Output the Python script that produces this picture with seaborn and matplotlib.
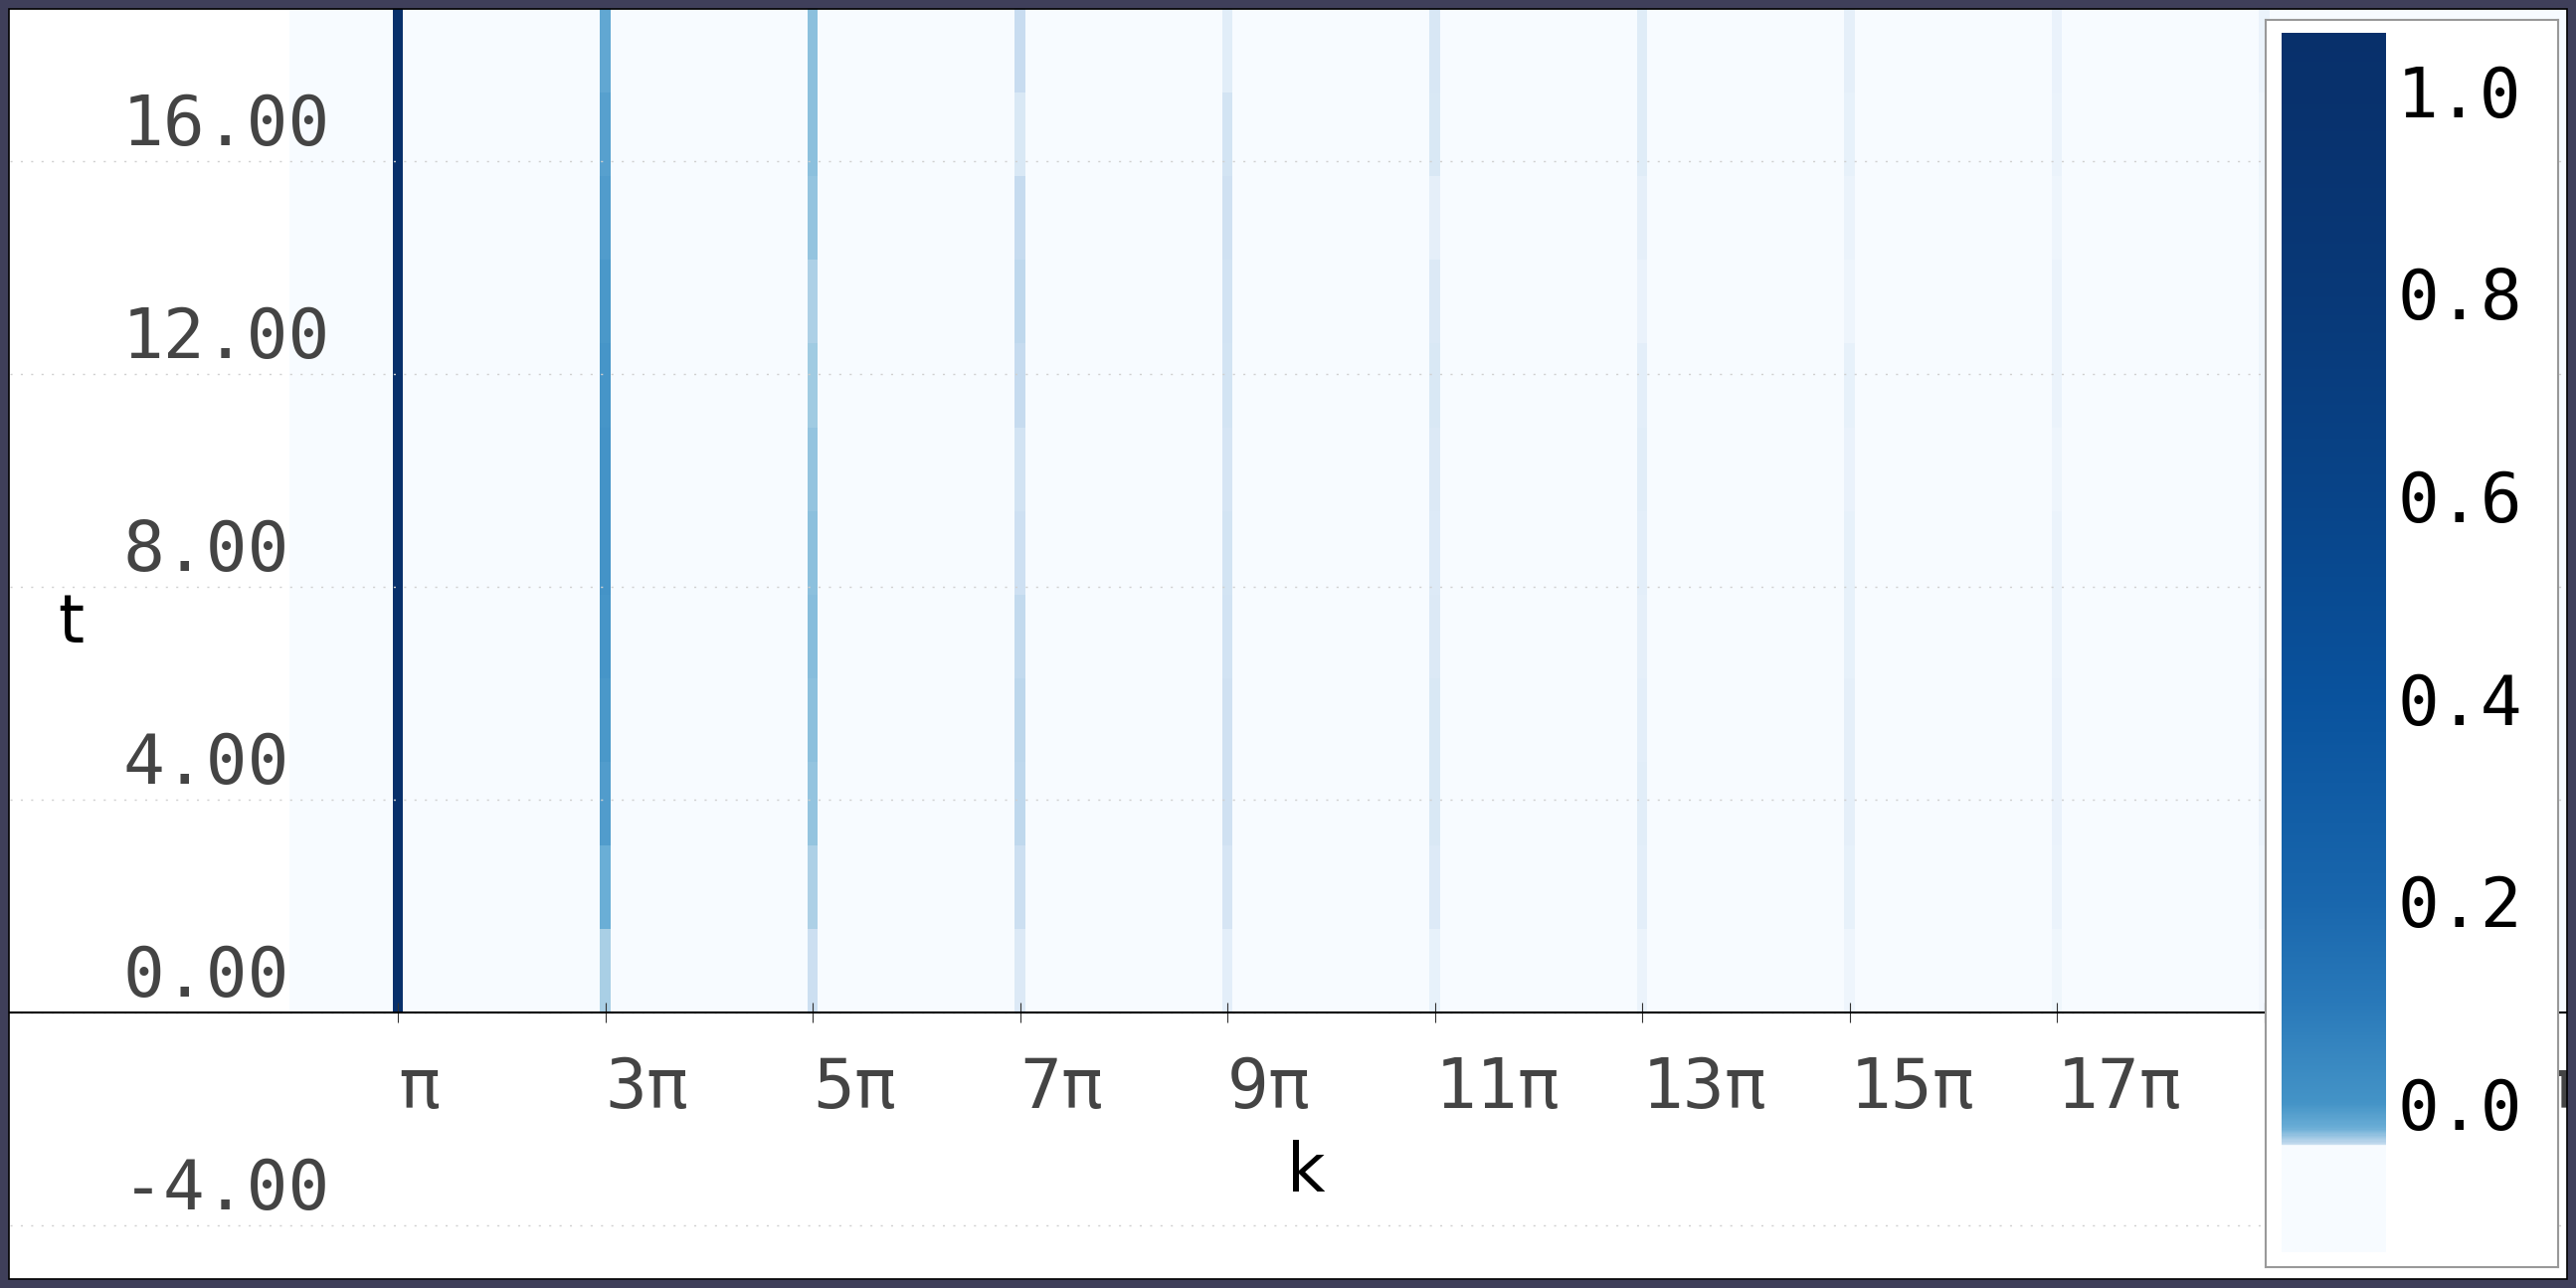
"""
Espectro em k ao longo de t
===========================
Heatmap (seaborn) das linhas nos harmônicos ímpares de π,
com barra de cores dentro de uma caixa no canto direito.
"""

import matplotlib.pyplot as plt
import matplotlib.transforms as mtransforms
import numpy as np
import seaborn as sns
from matplotlib.cm import ScalarMappable
from matplotlib.colors import LinearSegmentedColormap, Normalize
from matplotlib.patches import Rectangle

# ──────────────────────────────────────────────────────────────────
#  Dados
# ──────────────────────────────────────────────────────────────────
# harmônicos (múltiplos de π) onde aparecem as linhas
HARMONICOS = [1, 3, 5, 7, 9, 11, 13, 15, 17, 19]

# intensidade de cada linha por faixa de t (t=0 -> t=6π, passo π/2)
LINHA_1 = [1.00, 1.00, 1.00, 1.00, 1.00, 1.00, 1.00, 1.00, 1.00, 1.00, 1.00, 1.00]
LINHA_3 = [0.34, 0.50, 0.58, 0.60, 0.61, 0.62, 0.62, 0.61, 0.60, 0.58, 0.56, 0.53]
LINHA_5 = [0.22, 0.33, 0.40, 0.42, 0.43, 0.42, 0.40, 0.37, 0.33, 0.40, 0.42, 0.42]
LINHA_7 = [0.14, 0.22, 0.27, 0.28, 0.26, 0.21, 0.19, 0.25, 0.27, 0.25, 0.15, 0.24]
LINHA_9 = [0.10, 0.17, 0.20, 0.20, 0.19, 0.18, 0.17, 0.18, 0.19, 0.20, 0.18, 0.11]
LINHA_11 = [0.08, 0.13, 0.15, 0.15, 0.14, 0.13, 0.14, 0.15, 0.14, 0.09, 0.15, 0.16]
LINHA_13 = [0.06, 0.10, 0.11, 0.10, 0.09, 0.10, 0.11, 0.10, 0.07, 0.09, 0.12, 0.12]
LINHA_15 = [0.05, 0.08, 0.09, 0.09, 0.08, 0.08, 0.07, 0.08, 0.05, 0.06, 0.08, 0.09]
LINHA_17 = [0.04, 0.06, 0.07, 0.07, 0.06, 0.06, 0.05, 0.06, 0.06, 0.05, 0.06, 0.07]
LINHA_19 = [0.03, 0.05, 0.06, 0.06, 0.05, 0.05, 0.05, 0.05, 0.05, 0.04, 0.05, 0.06]
INTENSIDADES = [LINHA_1, LINHA_3, LINHA_5, LINHA_7, LINHA_9,
                LINHA_11, LINHA_13, LINHA_15, LINHA_17, LINHA_19]

# eixos
TICKS_K = [1, 3, 5, 7, 9, 11, 13, 15, 17, 19, 21]
ROTULOS_K = ["π", "3π", "5π", "7π", "9π", "11π", "13π", "15π", "17π", "19π", "21π"]
TICKS_T = [-4, 0, 4, 8, 12, 16]
TICKS_CBAR = [0.0, 0.2, 0.4, 0.6, 0.8, 1.0]

# escala da barra de cores: (valor, posição no mapa Blues)
ANCORAS_CBAR = [(-0.147, 0.0), (-0.0425, 0.0), (-0.041, 0.25), (-0.025, 0.5),
                (0.0, 0.62), (0.1, 0.72), (0.2, 0.79), (0.4, 0.87),
                (0.6, 0.925), (0.8, 0.965), (1.0, 0.995), (1.057, 1.0)]

# grade do heatmap
PASSO_K = 0.1           # largura da coluna, em múltiplos de π
N_COLUNAS = 220         # k de 0 a ~22π
PASSO_T = np.pi / 2     # altura da faixa de t
N_FAIXAS = 12           # t de 0 a 6π


def k_para_x(n):
    """Múltiplo de π -> coordenada de coluna do heatmap."""
    return n / PASSO_K + 0.5


def t_para_y(t):
    """Valor de t -> coordenada de linha do heatmap."""
    return t / PASSO_T


matriz = np.zeros((N_FAIXAS, N_COLUNAS))
for n, valores in zip(HARMONICOS, INTENSIDADES):
    matriz[:, round(n / PASSO_K)] = valores

# ──────────────────────────────────────────────────────────────────
#  Figura
# ──────────────────────────────────────────────────────────────────
sns.set_style("white")
plt.rcParams["font.family"] = ["DejaVu Sans Mono", "DejaVu Sans"]

W, H = 2590, 1295
fig = plt.figure(figsize=(W / 100, H / 100), dpi=100)
ax = fig.add_axes([10 / W, 9 / H, 2571 / W, 1277 / H])

sns.heatmap(matriz, ax=ax, cmap="Blues", vmin=0, vmax=1, cbar=False,
            xticklabels=False, yticklabels=False, antialiased=False)

ax.set_xlim(-26.91, 219.7)
ax.set_ylim(t_para_y(-5), t_para_y(6 * np.pi))

for sp in ax.spines.values():
    sp.set_visible(False)
ax.spines["bottom"].set_visible(True)
ax.spines["bottom"].set_position(("data", 0))
ax.spines["bottom"].set_color("black")
ax.spines["bottom"].set_linewidth(1.5)
ax.spines["bottom"].set_zorder(4)

ax.set_xticks([k_para_x(n) for n in TICKS_K])
ax.set_xticklabels([])
ax.tick_params(axis="x", direction="inout", length=14, width=0.8,
               color="#333333", bottom=True)
ax.set_yticks([t_para_y(t) for t in TICKS_T])
ax.set_yticklabels([])
ax.tick_params(axis="y", length=0, left=False)
ax.grid(axis="y", color="#d0d0d0", linestyle=(0, (1.5, 6)), linewidth=1.0)
ax.set_axisbelow(False)

# rótulos dos ticks (alinhados à esquerda, por dentro do eixo)
trans_x = mtransforms.offset_copy(ax.transData, fig=fig, y=-96, units="dots")
for n, rotulo in zip(TICKS_K, ROTULOS_K):
    ax.text(k_para_x(n), 0, rotulo, transform=trans_x, ha="left",
            va="baseline", fontsize=50, color="#444444")

trans_y = mtransforms.offset_copy(ax.get_yaxis_transform(), fig=fig,
                                  y=16, units="dots")
for t in TICKS_T:
    ax.text(0.044, t_para_y(t), f"{t:.2f}", transform=trans_y, ha="left",
            va="baseline", fontsize=50, color="#444444")

ax.text(0.507, 0.084, "k", transform=ax.transAxes, ha="center", va="center",
        fontsize=48, family="DejaVu Sans", color="black")
ax.text(0.0237, 0.516, "t", transform=ax.transAxes, ha="center", va="center",
        fontsize=48, family="DejaVu Sans", color="black")

# ──────────────────────────────────────────────────────────────────
#  Barra de cores
# ──────────────────────────────────────────────────────────────────
caixa = fig.add_axes([2278 / W, (H - 1274) / H, 294 / W, 1254 / H])
caixa.set_xticks([])
caixa.set_yticks([])
caixa.set_facecolor("white")
for sp in caixa.spines.values():
    sp.set_visible(True)
    sp.set_color("#999999")
    sp.set_linewidth(1.5)

cax = fig.add_axes([2294 / W, (H - 1259) / H, 105 / W, 1226 / H])
blues = plt.get_cmap("Blues")
vmin, vmax = ANCORAS_CBAR[0][0], ANCORAS_CBAR[-1][0]
cmap_cbar = LinearSegmentedColormap.from_list(
    "cbar", [((v - vmin) / (vmax - vmin), blues(p)) for v, p in ANCORAS_CBAR], N=1024
)
sm = ScalarMappable(norm=Normalize(vmin, vmax), cmap=cmap_cbar)
cb = fig.colorbar(sm, cax=cax, ticks=TICKS_CBAR, format="%.1f")
cb.outline.set_visible(False)
cax.tick_params(length=0, pad=8, labelsize=50, labelcolor="black")

# moldura escura
fig.add_artist(Rectangle((0, 0), 1, 1, transform=fig.transFigure, fill=False,
                         edgecolor="#3f3f5a", linewidth=13, zorder=100))
fig.add_artist(Rectangle((9 / W, 9 / H), 1 - 18 / W, 1 - 18 / H,
                         transform=fig.transFigure, fill=False,
                         edgecolor="black", linewidth=1.2, zorder=101))

fig.savefig("out.png", dpi=100)
plt.close(fig)
